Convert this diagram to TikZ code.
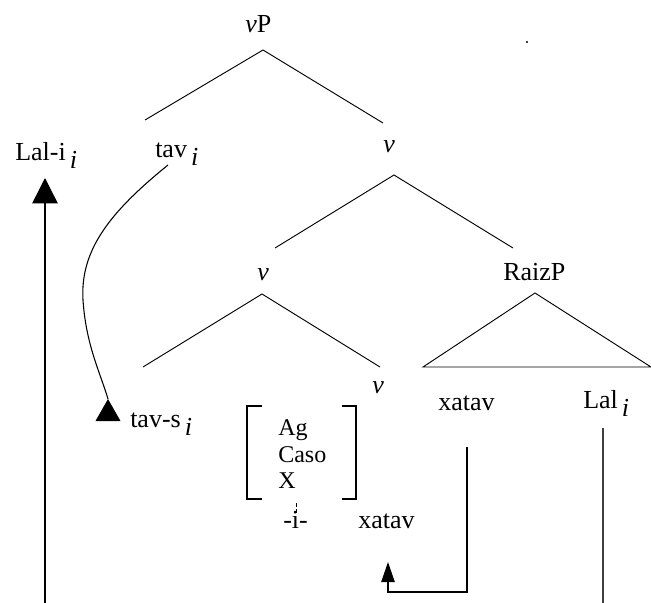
\documentclass[tikz,border=0pt]{standalone}
\usepackage{fontspec}
\setmainfont{Liberation Serif}
\usetikzlibrary{arrows.meta}

\tikzset{
  lbl/.style={anchor=base west, inner sep=0pt, font=\fontsize{19.5}{22}\selectfont},
  feat/.style={anchor=base west, inner sep=0pt, font=\fontsize{18}{20}\selectfont},
  branch/.style={line width=0.7pt},
  mover/.style={line width=1.1pt},
  bigtip/.style={-{Triangle[length=19pt,width=19pt]}},
}
% lowered italic index
\newcommand{\idx}{\hspace{3pt}\raisebox{-6pt}{\itshape i}}

\begin{document}
\begin{tikzpicture}[x=0.75pt,y=-0.75pt]
    \useasboundingbox (0,0) rectangle (651,603);

    % Labels of the tree
    \node[lbl] (vp)    at (245,32)  {\textit{v}P};
    \node[lbl] (tavi)  at (155,157) {tav\idx};
    \node[lbl] (lali)  at (15,160)  {Lal-i\idx};
    \node[lbl] (vone)  at (383,152) {\textit{v}};
    \node[lbl] (vtwo)  at (257,280) {\textit{v}};
    \node[lbl] (raizp) at (503,280) {RaizP};
    \node[lbl] (vhead) at (372,393) {\textit{v}};
    \node[lbl] (xatav) at (438,410) {xatav};
    \node[lbl] (lal)   at (583,408) {Lal\idx};
    \node[lbl] (tavs)  at (130,427) {tav-s\idx};

    % Features of the head
    \node[feat] (ag)   at (278,435) {Ag};
    \node[feat] (caso) at (278,462) {Caso};
    \node[feat] (xf)   at (278,488) {X};
    \node[lbl]  (infl) at (283,528) {-i-};
    \node[lbl]  (xatavlow) at (358,528) {xatav};

    % Branch points
    \coordinate (top)   at (263,50);
    \coordinate (topl)  at (145,120);
    \coordinate (topr)  at (383,123);
    \coordinate (mid)   at (394,175);
    \coordinate (midl)  at (275,248);
    \coordinate (midr)  at (513,248);
    \coordinate (low)   at (262,294);
    \coordinate (lowl)  at (143,367);
    \coordinate (lowr)  at (380,367);
    \coordinate (rz)    at (535,293);
    \coordinate (rzl)   at (423,367);
    \coordinate (rzr)   at (651,367);

    \draw[branch] (topl) -- (top) -- (topr);
    \draw[branch] (midl) -- (mid) -- (midr);
    \draw[branch] (lowl) -- (low) -- (lowr);
    \draw[branch] (rzl) -- (rz) -- (rzr) -- cycle;

    % Feature bracket
    \draw[mover] (262,406) -- (247,406) -- (247,499) -- (262,499);
    \draw[mover] (342,406) -- (356,406) -- (356,499) -- (342,499);
    \draw[dashed, line width=0.6pt, dash pattern=on 3pt off 1.5pt] (296,503) -- (296,514);

    % Movement of tav, ending on a raised marker
    \coordinate (tavfoot) at (168,165);
    \coordinate (tavland) at (108,399);
    \draw[line width=0.8pt] (tavfoot) .. controls (110,212) and (80,250) .. (83,300)
        .. controls (86,345) and (100,372) .. (tavland);
    \fill (tavland) -- ++(-12.5,22) -- ++(25,0) -- cycle;

    % Movement of Lal
    \coordinate (lalibot) at (45,603);
    \coordinate (lalitip) at (45,178);
    \draw[mover, bigtip] (lalibot) -- (lalitip);

    % Movement of xatav
    \coordinate (xatavtop) at (467,447);
    \coordinate (xatavtip) at (388,562);
    \draw[mover, -{Triangle[length=15pt,width=10pt]}] (xatavtop) -- (467,592) -- (388,592) -- (xatavtip);

    % Lal line
    \coordinate (laltop) at (603,428);
    \coordinate (lalbot) at (603,603);
    \draw[line width=1.4pt, black!75] (laltop) -- (lalbot);

    % stray mark
    \fill (527,42) circle (1.2);
\end{tikzpicture}
\end{document}
